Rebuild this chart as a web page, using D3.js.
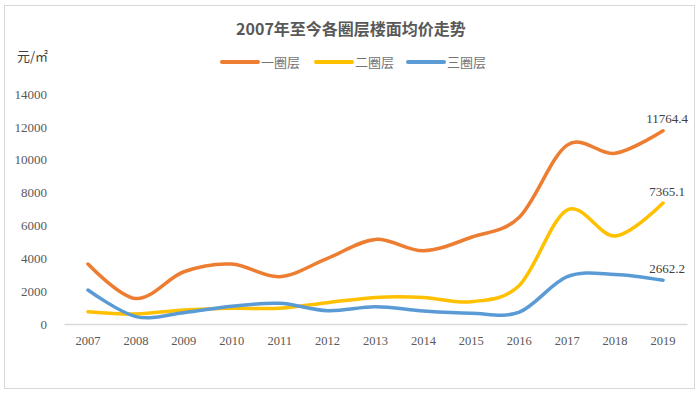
<!DOCTYPE html>
<html>
<head>
<meta charset="utf-8">
<script src="https://cdn.jsdelivr.net/npm/d3@7"></script>
<style>
  html, body { margin: 0; padding: 0; background: #fff; }
  svg { display: block; }
</style>
</head>
<body>
<svg id="chart" width="700" height="394"></svg>
<script>
const years = ["2007","2008","2009","2010","2011","2012","2013","2014","2015","2016","2017","2018","2019"];
const seriesNames = ["一圈层", "二圈层", "三圈层"];
const tier1 = [3650, 1550, 3180, 3650, 2880, 4000, 5150, 4460, 5280, 6500, 10890, 10390, 11764.4];
const tier2 = [750, 610, 850, 960, 960, 1300, 1620, 1620, 1360, 2350, 6940, 5360, 7365.1];
const tier3 = [2070, 450, 690, 1080, 1260, 810, 1050, 790, 650, 720, 2880, 3020, 2662.2];
const yTicks = [0, 2000, 4000, 6000, 8000, 10000, 12000, 14000];
const lastLabels = ["11764.4", "7365.1", "2662.2"];
const titleText = "2007年至今各圈层楼面均价走势";
const unitText = "元/㎡";

const colors = ["#ED7D31", "#FFC000", "#5B9BD5"];
const allSeries = [tier1, tier2, tier3];

const svg = d3.select("#chart");

// outer frame
svg.append("rect")
  .attr("x", 4.5).attr("y", 5.5).attr("width", 690).attr("height", 383)
  .attr("fill", "#fff").attr("stroke", "#d9d9d9").attr("stroke-width", 1);

const x = d3.scaleBand().domain(years).range([64, 687]);
const y = d3.scaleLinear().domain([0, 14000]).range([324, 94]);

// title
svg.append("text")
  .attr("x", 351).attr("y", 35)
  .attr("text-anchor", "middle")
  .attr("font-family", "'Noto Sans CJK SC', sans-serif")
  .attr("font-size", 16).attr("font-weight", "bold")
  .attr("fill", "#595959")
  .text(titleText);

// unit
svg.append("text")
  .attr("x", 17).attr("y", 61)
  .attr("font-family", "'Noto Sans CJK SC', sans-serif")
  .attr("font-size", 13)
  .attr("fill", "#404040")
  .text(unitText);

// legend
const legendX = [222, 316, 408];
seriesNames.forEach((name, i) => {
  const g = svg.append("g").attr("transform", `translate(${legendX[i]},62)`);
  g.append("line").attr("x1", 0).attr("x2", 36).attr("y1", 0).attr("y2", 0)
    .attr("stroke", colors[i]).attr("stroke-width", 4).attr("stroke-linecap", "round");
  g.append("text").attr("x", 39).attr("y", 4.5)
    .attr("font-family", "'Noto Sans CJK SC', sans-serif")
    .attr("font-size", 13).attr("fill", "#757575")
    .text(name);
});

// y axis (labels only)
const yAxis = svg.append("g").attr("transform", "translate(55,0)")
  .call(d3.axisLeft(y).tickValues(yTicks).tickSize(0).tickPadding(8).tickFormat(d3.format("d")));
yAxis.select(".domain").remove();
yAxis.selectAll("text")
  .attr("font-family", "'Liberation Serif', serif")
  .attr("font-size", 13).attr("fill", "#595959");

// x axis
const xAxis = svg.append("g").attr("transform", "translate(0,324)")
  .call(d3.axisBottom(x).tickSize(0).tickPadding(12));
xAxis.select(".domain").attr("stroke", "#d9d9d9").attr("stroke-width", 1.5);
xAxis.selectAll("text")
  .attr("font-family", "'Liberation Serif', serif")
  .attr("font-size", 12.5).attr("fill", "#595959");

// lines
const line = d3.line()
  .x((d, i) => x(years[i]) + x.bandwidth() / 2)
  .y(d => y(d))
  .curve(d3.curveCardinal.tension(0));

allSeries.forEach((s, i) => {
  svg.append("path")
    .datum(s)
    .attr("d", line)
    .attr("fill", "none")
    .attr("stroke", colors[i])
    .attr("stroke-width", 3.5)
    .attr("stroke-linecap", "round")
    .attr("stroke-linejoin", "round");
});

// end labels
allSeries.forEach((s, i) => {
  const last = s.length - 1;
  svg.append("text")
    .attr("x", x(years[last]) + x.bandwidth() / 2 + 4)
    .attr("y", y(s[last]) - 7.5)
    .attr("text-anchor", "middle")
    .attr("font-family", "'Liberation Serif', serif")
    .attr("font-size", 13).attr("fill", "#404040")
    .text(lastLabels[i]);
});
</script>
</body>
</html>
